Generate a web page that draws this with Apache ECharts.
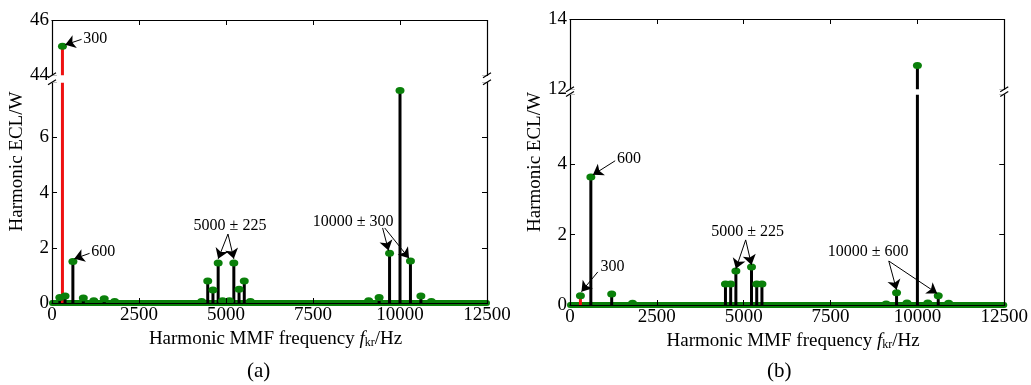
<!DOCTYPE html>
<html>
<head>
<meta charset="utf-8">
<script src="https://cdn.jsdelivr.net/npm/echarts@6/dist/echarts.min.js"></script>
<style>
html, body { margin: 0; padding: 0; background: #fff; }
#main { width: 1031px; height: 385px; }
</style>
</head>
<body>
<div id="main"></div>
<script>
// harmonic frequencies (Hz) and ECL (W), panel (a)
var freqA = [225, 300, 375, 600, 900, 1200, 1500, 1800, 4300, 4475, 4625, 4775, 4900, 5100, 5225, 5375, 5525, 5700, 9100, 9400, 9700, 10000, 10300, 10600, 10900];
var valA = [0.2, 45.05, 0.25, 1.5, 0.18, 0.08, 0.15, 0.05, 0.05, 0.8, 0.47, 1.45, 0.08, 0.08, 1.45, 0.5, 0.8, 0.05, 0.08, 0.2, 1.8, 7.7, 1.52, 0.25, 0.05];

// panel (b)
var freqB = [300, 600, 1200, 1800, 4475, 4625, 4775, 5225, 5375, 5525, 9100, 9400, 9700, 10000, 10300, 10600, 10900];
var valB = [0.26, 3.64, 0.31, 0.05, 0.6, 0.6, 0.97, 1.08, 0.6, 0.6, 0.03, 0.35, 0.06, 12.68, 0.06, 0.26, 0.05];

var redFreq = 300;
var xTicks = [0, 2500, 5000, 7500, 10000, 12500];

// annotation texts with [freq, value] anchor, arrows [fromF, fromV, toF, toV]
var notesA = [
  { text: '300', at: [1240, 45.32] },
  { text: '600', at: [1470, 1.86] },
  { text: '5000 ± 225', at: [5115, 2.78] },
  { text: '10000 ± 300', at: [8650, 2.96] }
];
var arrowsA = [
  [850, 45.3, 380, 45.1],
  [1080, 1.8, 640, 1.6],
  [5057, 2.5, 4775, 1.6],
  [5057, 2.5, 5225, 1.6],
  [9500, 2.72, 9670, 1.9],
  [9560, 2.72, 10260, 1.62]
];
var notesB = [
  { text: '600', at: [1700, 4.15] },
  { text: '300', at: [1220, 1.08] },
  { text: '5000 ± 225', at: [5114, 2.07] },
  { text: '10000 ± 600', at: [8580, 1.5] }
];
var arrowsB = [
  [1300, 4.1, 660, 3.7],
  [800, 0.94, 330, 0.38],
  [5057, 1.85, 4775, 1.03],
  [5057, 1.85, 5225, 1.14],
  [9176, 1.25, 9400, 0.43],
  [9176, 1.25, 10570, 0.33]
];

var FONT = 'Liberation Serif';
var GREEN = '#0a800a';

var chart = echarts.init(document.getElementById('main'));

function xAx(grid, pos, withLabels) {
  var ax = {
    type: 'value', gridIndex: grid, position: pos,
    min: xTicks[0], max: xTicks[xTicks.length - 1], interval: 2500,
    z: 5,
    axisLine: { show: true, onZero: false, lineStyle: { color: '#000', width: 1.2 } },
    axisTick: { show: true, inside: true, length: 5, lineStyle: { color: '#000' } },
    axisLabel: {
      show: withLabels, color: '#000', fontFamily: FONT, fontSize: 19, margin: 3,
      formatter: function (v) { return String(v); }
    },
    splitLine: { show: false }
  };
  if (withLabels) {
    ax.name = 'Harmonic MMF frequency {i|f}{s|kr}/Hz';
    ax.nameLocation = 'middle';
    ax.nameGap = 20;
    ax.nameTextStyle = {
      color: '#000', fontFamily: FONT, fontSize: 19, padding: [0, 0, 0, 12],
      rich: {
        i: { fontFamily: FONT, fontSize: 19, fontStyle: 'italic', color: '#000' },
        s: { fontFamily: FONT, fontSize: 12, color: '#000', verticalAlign: 'bottom', padding: [6, 0, 0, 0] }
      }
    };
  }
  return ax;
}

function yAx(grid, pos, withLabels, max, brk) {
  var ax = {
    type: 'value', gridIndex: grid, position: pos,
    min: 0, max: max, interval: 2,
    z: 5,
    breaks: [{ start: brk[0], end: brk[1], gap: brk[2] }],
    breakArea: {
      show: true,
      itemStyle: { color: '#fff', opacity: 1, borderWidth: 0, borderColor: '#fff' },
      zigzagAmplitude: 0,
      zigzagZ: 200,
      expandOnClick: false
    },
    breakLabelLayout: { moveOverlap: false },
    axisLine: { show: true, onZero: false, lineStyle: { color: '#000', width: 1.2 } },
    axisTick: { show: true, inside: true, length: 5, lineStyle: { color: '#000' } },
    axisLabel: {
      show: withLabels, color: '#000', fontFamily: FONT, fontSize: 19, margin: 3,
      formatter: function (v) { return v === brk[0] ? '' : String(v); }
    },
    splitLine: { show: false }
  };
  if (withLabels) {
    ax.name = 'Harmonic ECL/W';
    ax.nameLocation = 'middle';
    ax.nameGap = 21;
    ax.nameTextStyle = { color: '#000', fontFamily: FONT, fontSize: 19 };
  }
  return ax;
}

function panelSeries(xi, yi, freqs, vals, notes, arrows) {
  var bars = freqs.map(function (f, i) {
    return { value: [f, vals[i]], itemStyle: { color: f === redFreq ? '#ee1111' : '#000' } };
  });
  var dots = freqs.map(function (f, i) { return [f, vals[i]]; });
  return [
    {
      type: 'line', xAxisIndex: xi, yAxisIndex: yi, z: 1,
      data: [[xTicks[0], 0], [xTicks[xTicks.length - 1], 0]],
      showSymbol: false, silent: true,
      lineStyle: { color: GREEN, width: 6, cap: 'round' }
    },
    {
      type: 'bar', xAxisIndex: xi, yAxisIndex: yi, z: 2,
      barWidth: 3, data: bars, silent: true
    },
    {
      type: 'scatter', xAxisIndex: xi, yAxisIndex: yi, z: 3,
      symbol: 'circle', symbolSize: [9, 7],
      itemStyle: { color: GREEN, opacity: 1 },
      data: dots, silent: true,
      markLine: {
        silent: true, animation: false,
        symbol: ['none', 'arrow'], symbolSize: 10,
        lineStyle: { color: '#000', width: 1, type: 'solid' },
        label: { show: false },
        data: arrows.map(function (a) {
          return [{ coord: [a[0], a[1]] }, { coord: [a[2], a[3]] }];
        })
      },
      markPoint: {
        silent: true, animation: false,
        symbol: 'circle', symbolSize: 0,
        data: notes.map(function (n) {
          return {
            coord: n.at, value: n.text,
            label: { show: true, position: 'inside', formatter: n.text, color: '#000', fontFamily: FONT, fontSize: 16 }
          };
        })
      }
    }
  ];
}

var option = {
  animation: false,
  backgroundColor: '#fff',
  grid: [
    { left: 52, right: 544, top: 20, bottom: 82 },
    { left: 570, right: 21, top: 19, bottom: 80 }
  ],
  xAxis: [xAx(0, 'bottom', true), xAx(0, 'top', false), xAx(1, 'bottom', true), xAx(1, 'top', false)],
  yAxis: [
    yAx(0, 'left', true, 46, [8, 44, '2.5%']), yAx(0, 'right', false, 46, [8, 44, '2.5%']),
    yAx(1, 'left', true, 14, [6, 12, '1.6%']), yAx(1, 'right', false, 14, [6, 12, '1.6%'])
  ],
  series: [].concat(
    panelSeries(0, 0, freqA, valA, notesA, arrowsA),
    panelSeries(2, 2, freqB, valB, notesB, arrowsB)
  )
};
chart.setOption(option);

// axis break marks "//" on both sides of each panel
function breakMarks(xi, yi, brk) {
  var out = [];
  var yLo = chart.convertToPixel({ yAxisIndex: yi }, brk[0]);
  var yHi = chart.convertToPixel({ yAxisIndex: yi }, brk[1]);
  var xs = [chart.convertToPixel({ xAxisIndex: xi }, xTicks[0]), chart.convertToPixel({ xAxisIndex: xi }, xTicks[xTicks.length - 1])];
  xs.forEach(function (x) {
    [yLo, yHi].forEach(function (y) {
      out.push({
        type: 'line', z: 300,
        shape: { x1: x - 4, y1: y + 2.5, x2: x + 4, y2: y - 2.5 },
        style: { stroke: '#000', lineWidth: 1.2 }
      });
    });
  });
  return out;
}

var gfx = [].concat(breakMarks(0, 0, [8, 44]), breakMarks(2, 2, [6, 12]));
gfx.push({ type: 'text', left: 247, top: 361, z: 300, style: { text: '(a)', font: '21px "Liberation Serif"', fill: '#000' } });
gfx.push({ type: 'text', left: 767, top: 361, z: 300, style: { text: '(b)', font: '21px "Liberation Serif"', fill: '#000' } });
chart.setOption({ graphic: gfx });
</script>
</body>
</html>
